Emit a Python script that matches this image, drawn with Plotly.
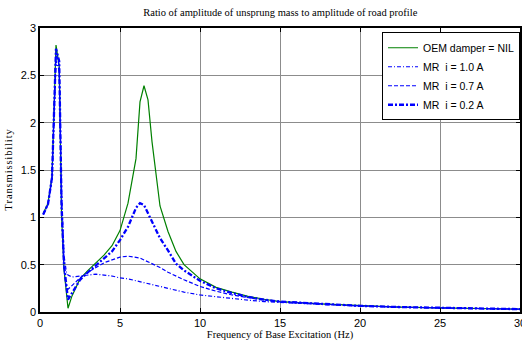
import plotly.graph_objects as go

freq = [0.2, 0.5, 0.75, 1.0, 1.2, 1.35, 1.5, 1.65, 1.75, 2.0, 2.5, 3.0, 3.5, 4.0, 4.5, 5.0, 5.5,
        6.0, 6.25, 6.5, 6.75, 7.0, 7.5, 8.0, 8.5, 9.0, 10, 11, 12, 13, 14, 15, 17.5, 20, 22.5,
        25, 27.5, 30]

oem = [1.04, 1.15, 1.43, 2.82, 2.6, 1.0, 0.45, 0.2, 0.04, 0.17, 0.35, 0.44, 0.52, 0.6, 0.7, 0.86, 1.15,
       1.62, 2.22, 2.39, 2.24, 1.8, 1.12, 0.85, 0.64, 0.5, 0.35, 0.26, 0.21, 0.165, 0.135, 0.11, 0.085,
       0.065, 0.052, 0.043, 0.036, 0.03]

mr_10 = [1.03, 1.13, 1.40, 2.65, 2.55, 1.3, 0.6, 0.42, 0.39, 0.37, 0.38, 0.39, 0.40, 0.39, 0.38, 0.36, 0.35,
         0.33, 0.32, 0.31, 0.30, 0.29, 0.27, 0.25, 0.23, 0.21, 0.18, 0.16, 0.14, 0.125, 0.11, 0.10, 0.08,
         0.063, 0.05, 0.042, 0.035, 0.03]

mr_07 = [1.03, 1.14, 1.42, 2.75, 2.6, 1.1, 0.45, 0.25, 0.24, 0.28, 0.36, 0.42, 0.47, 0.52, 0.55, 0.58, 0.59,
         0.58, 0.57, 0.55, 0.53, 0.51, 0.47, 0.42, 0.38, 0.34, 0.27, 0.22, 0.18, 0.15, 0.125, 0.11, 0.083,
         0.064, 0.051, 0.042, 0.035, 0.03]

mr_02 = [1.03, 1.14, 1.42, 2.78, 2.65, 1.1, 0.5, 0.25, 0.13, 0.2, 0.34, 0.42, 0.49, 0.56, 0.64, 0.76, 0.9,
         1.1, 1.15, 1.13, 1.04, 0.95, 0.78, 0.65, 0.51, 0.44, 0.33, 0.25, 0.2, 0.16, 0.13, 0.11, 0.085,
         0.065, 0.052, 0.043, 0.036, 0.03]

names = ["OEM damper = NIL", "MR  i = 1.0 A", "MR  i = 0.7 A", "MR  i = 0.2 A"]
x_ticks = [0, 5, 10, 15, 20, 25, 30]
y_ticks = [0, 0.5, 1, 1.5, 2, 2.5, 3]
y_tick_text = ["0", "0.5", "1", "1.5", "2", "2.5", "3"]

fig = go.Figure()
fig.add_trace(go.Scatter(x=freq, y=oem, name=names[0], mode="lines",
                         line=dict(color="rgb(0,128,0)", width=1.2)))
fig.add_trace(go.Scatter(x=freq, y=mr_10, name=names[1], mode="lines",
                         line=dict(color="rgb(0,0,255)", width=1.2, dash="4px,2px,1px,2px")))
fig.add_trace(go.Scatter(x=freq, y=mr_07, name=names[2], mode="lines",
                         line=dict(color="rgb(0,0,255)", width=1.2, dash="4px,2px")))
fig.add_trace(go.Scatter(x=freq, y=mr_02, name=names[3], mode="lines",
                         line=dict(color="rgb(0,0,255)", width=2.3, dash="5px,2px,2px,2px")))

font_tick = dict(family="Liberation Sans, Arial", size=11, color="black")

fig.update_xaxes(range=[0, 30], tickmode="array", tickvals=x_ticks, ticktext=[str(v) for v in x_ticks],
                 showgrid=True, gridcolor="#8c8c8c", gridwidth=1,
                 showline=True, linecolor="black", linewidth=1.5, mirror="allticks",
                 ticks="inside", ticklen=4, tickcolor="black", zeroline=False, automargin=False,
                 tickfont=font_tick, ticklabeloverflow="allow",
                 title=dict(text="Frequency of Base Excitation (Hz)", standoff=0,
                            font=dict(family="Liberation Serif, Times New Roman", size=10.5, color="black")))
fig.update_yaxes(range=[0, 3], tickmode="array", tickvals=y_ticks, ticktext=y_tick_text,
                 showgrid=True, gridcolor="#8c8c8c", gridwidth=1,
                 showline=True, linecolor="black", linewidth=1.5, mirror="allticks",
                 ticks="inside", ticklen=4, tickcolor="black", zeroline=False, automargin=False,
                 tickfont=font_tick, ticklabeloverflow="allow",
                 title=dict(text="\u200a".join("Transmissibility"), standoff=6,
                            font=dict(family="Liberation Serif, Times New Roman", size=10.5, color="black")))

fig.update_layout(
    width=522, height=341,
    margin=dict(l=40, r=2, t=28, b=29, autoexpand=False),
    paper_bgcolor="white", plot_bgcolor="white",
    title=dict(text="Ratio of amplitude of unsprung mass to amplitude of road profile",
               x=0.537, xanchor="center", y=0.965, yanchor="middle", automargin=False,
               font=dict(family="Liberation Serif, Times New Roman", size=10.5, color="black")),
    legend=dict(x=1.0, xanchor="right", y=0.985, yanchor="top",
                bgcolor="white", bordercolor="black", borderwidth=1,
                font=dict(family="Liberation Sans, Arial", size=10.5, color="black"),
                itemwidth=30, tracegroupgap=0),
    showlegend=True,
)

fig.write_html("out.html", config={"displayModeBar": False},
               post_script="document.body.style.margin='0';document.body.style.padding='0';")
